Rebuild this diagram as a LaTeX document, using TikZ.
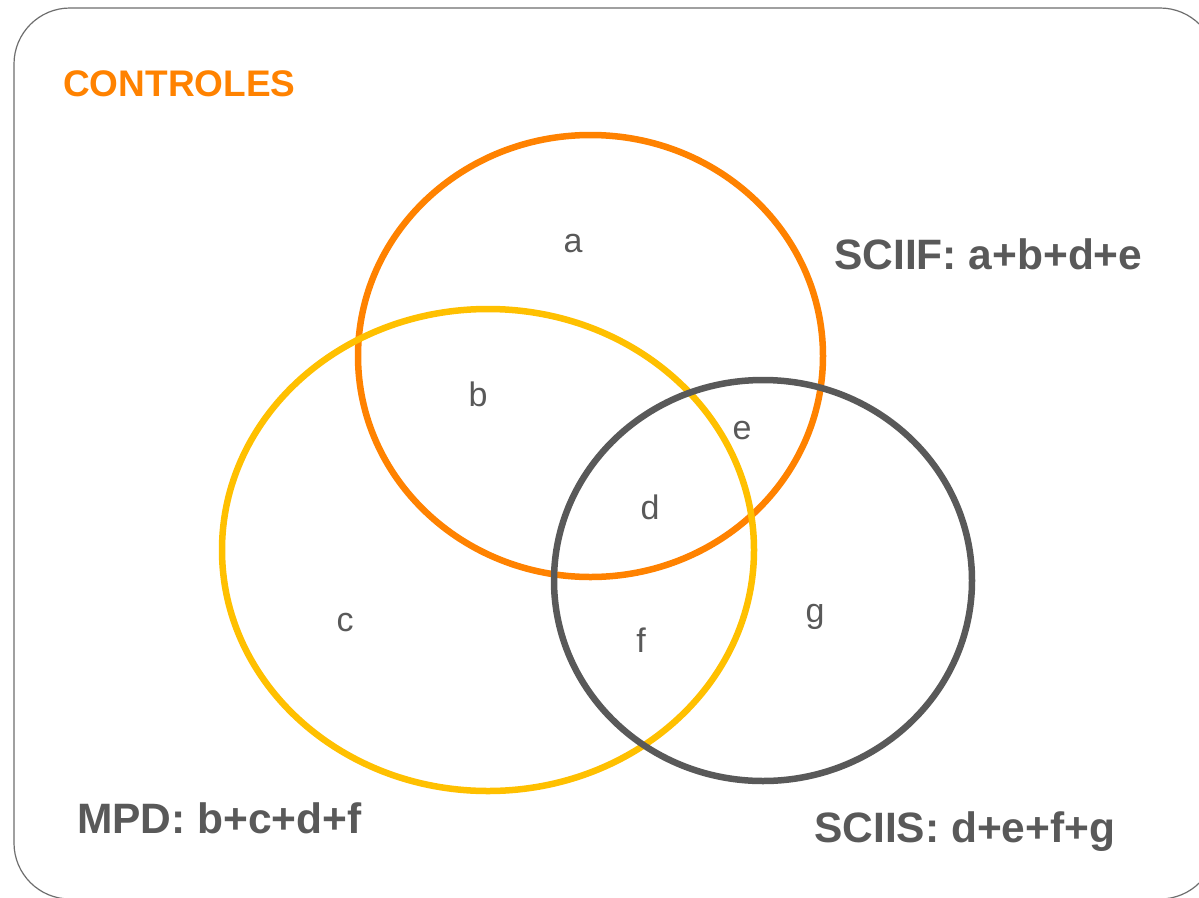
\documentclass[tikz,border=0pt]{standalone}
\usepackage{fontspec}
\setmainfont{Liberation Sans}
\definecolor{orng}{HTML}{FF8200}
\definecolor{yllw}{HTML}{FFC000}
\definecolor{dgray}{HTML}{595959}
\definecolor{frame}{HTML}{6E6E6E}
\tikzset{
  ring/.style={line width=6.5pt},
  lbl/.style={text=dgray, font=\fontsize{34}{40}\selectfont, anchor=base, inner sep=0pt},
  big/.style={text=dgray, font=\bfseries\fontsize{42.5}{48}\selectfont, anchor=base west, inner sep=0pt},
}
\begin{document}
\begin{tikzpicture}[x=1pt,y=-1pt]
\useasboundingbox (0,0) rectangle (1199,897);
\clip (0,0) rectangle (1199,897);
\fill[white] (0,0) rectangle (1199,897);
\draw[frame, line width=1.2pt, rounded corners=56pt] (14,8) rectangle (1216,899);
\node[text=orng, font=\bfseries\fontsize{37}{42}\selectfont, anchor=base west, inner sep=0pt] (title) at (63,96) {CONTROLES};
\draw[ring, orng] (590.5,356) ellipse [x radius=232.5, y radius=221];
\draw[ring, yllw] (488,550) ellipse [x radius=266, y radius=241];
\draw[ring, dgray] (763,580.5) ellipse [x radius=209, y radius=200.5];
\node[lbl] (a) at (573,252) {a};
\node[lbl] (b) at (478,406) {b};
\node[lbl] (e) at (742,439.5) {e};
\node[lbl] (d) at (650,519) {d};
\node[lbl] (c) at (345,631.5) {c};
\node[lbl] (f) at (641,652) {f};
\node[lbl] (g) at (815,622) {g};
\node[big] (sciif) at (834,269) {SCIIF: a+b+d+e};
\node[big] (mpd) at (77,833) {MPD: b+c+d+f};
\node[big] (sciis) at (814,842) {SCIIS: d+e+f+g};
\end{tikzpicture}
\end{document}
